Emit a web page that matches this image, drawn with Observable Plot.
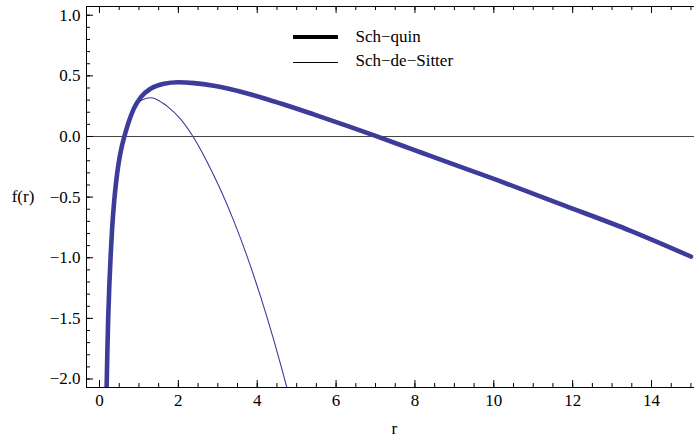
<!DOCTYPE html>
<html><head><meta charset="utf-8">
<script src="https://cdn.jsdelivr.net/npm/d3@7"></script>
<script src="https://cdn.jsdelivr.net/npm/@observablehq/plot@0.6"></script>
<style>
body{margin:0;background:#fff;}
#wrap{position:relative;width:694px;height:439px;font-family:'Liberation Serif';}
.lbl{position:absolute;font-family:'Liberation Serif';font-size:17px;line-height:1;color:#000;white-space:nowrap;}
.key{position:absolute;background:#000;}
</style></head><body><div id="wrap"></div>
<script>
// Sch-quin (thick)
const quinR = [0.18, 0.20, 0.22, 0.25, 0.28, 0.32, 0.37, 0.42, 0.48, 0.55, 0.63, 0.74, 0.87, 1.05, 1.30, 1.63, 2.00, 2.40, 2.90, 3.75, 4.60, 5.45, 6.30, 7.00, 7.97, 8.39, 10.09, 11.78, 13.47, 15.00];
const quinF = [-2.07, -1.76, -1.50, -1.22, -1.00, -0.76, -0.54, -0.38, -0.23, -0.105, 0.00, 0.12, 0.23, 0.325, 0.395, 0.435, 0.447, 0.44, 0.418, 0.355, 0.272, 0.18, 0.085, 0.005, -0.11, -0.16, -0.36, -0.568, -0.778, -0.99];
// Sch-de-Sitter (thin)
const dsR = [0.18, 0.22, 0.28, 0.37, 0.45, 0.53, 0.63, 0.74, 0.87, 1.00, 1.17, 1.30, 1.42, 1.63, 1.72, 2.05, 2.35, 2.73, 3.07, 3.41, 3.75, 4.08, 4.42, 4.76];
const dsF = [-2.07, -1.50, -1.00, -0.54, -0.30, -0.14, 0.00, 0.12, 0.23, 0.285, 0.313, 0.32, 0.31, 0.27, 0.248, 0.145, 0.01, -0.21, -0.44, -0.70, -0.995, -1.315, -1.68, -2.08];

const seriesNames = ["Sch\u2212quin", "Sch\u2212de\u2212Sitter"];
const xMajor = [0, 2, 4, 6, 8, 10, 12, 14];
const xMinor = d3.range(0, 15.01, 0.5);
const yMajor = [-2.0, -1.5, -1.0, -0.5, 0.0, 0.5, 1.0];
const yMinor = d3.range(-2.0, 1.05, 0.1).map(v => Math.round(v * 10) / 10);
const xDomain = [-0.33, 15.09];
const yDomain = [-2.07, 1.072];

const quin = quinR.map((r, i) => ({r, f: quinF[i]}));
const ds = dsR.map((r, i) => ({r, f: dsF[i]}));
const col = "#3c3c9a";

const W = 694, H = 439, mL = 86, mR = 0, mT = 6, mB = 52;
const iw = W - mL - mR, ih = H - mT - mB;
const fmt = d => d.toFixed(1).replace("-", "\u2212");
const serif = "Liberation Serif";

const chart = Plot.plot({
  width: W, height: H,
  marginLeft: mL, marginRight: mR, marginTop: mT, marginBottom: mB,
  style: {fontFamily: serif, fontSize: "17px", background: "#fff", color: "#000"},
  x: {domain: xDomain},
  y: {domain: yDomain},
  marks: [
    Plot.ruleY([0], {stroke: "#444", strokeWidth: 1}),
    Plot.line(quin, {x: "r", y: "f", stroke: col, strokeWidth: 4.6, curve: "monotone-x", clip: true}),
    Plot.line(ds, {x: "r", y: "f", stroke: col, strokeWidth: 1.1, curve: "monotone-x", clip: true}),
    // frame lines (bottom, top, left)
    Plot.ruleY([yDomain[0]], {stroke: "#000", strokeWidth: 1}),
    Plot.ruleY([yDomain[1]], {stroke: "#000", strokeWidth: 1}),
    Plot.ruleX([xDomain[0]], {stroke: "#000", strokeWidth: 1}),
    // inward ticks
    Plot.tickX(xMinor, {x: d => d, insetTop: ih - 4, stroke: "#000"}),
    Plot.tickX(xMajor, {x: d => d, insetTop: ih - 7, stroke: "#000"}),
    Plot.tickX(xMinor, {x: d => d, insetBottom: ih - 4, stroke: "#000"}),
    Plot.tickX(xMajor, {x: d => d, insetBottom: ih - 7, stroke: "#000"}),
    Plot.tickY(yMinor, {y: d => d, insetRight: iw - 4, stroke: "#000"}),
    Plot.tickY(yMajor, {y: d => d, insetRight: iw - 7, stroke: "#000"}),
    Plot.axisX(xMajor, {tickSize: 0, tickPadding: 6, label: null, tickFormat: d => String(d), fontFamily: serif}),
    Plot.axisY(yMajor, {tickSize: 0, tickPadding: 6, label: null, tickFormat: fmt, fontFamily: serif})
  ]
});
const wrap = document.getElementById("wrap");
wrap.appendChild(chart);

function addText(txt, left, top) {
  const d = document.createElement("div");
  d.className = "lbl"; d.textContent = txt;
  d.style.left = left + "px"; d.style.top = top + "px";
  wrap.appendChild(d);
}
function addKey(left, top, w, h) {
  const d = document.createElement("div");
  d.className = "key";
  d.style.left = left + "px"; d.style.top = top + "px";
  d.style.width = w + "px"; d.style.height = h + "px";
  wrap.appendChild(d);
}
addKey(293, 35, 45, 4);
addKey(293, 61.5, 45, 1.5);
addText(seriesNames[0], 355.5, 27.5);
addText(seriesNames[1], 355.5, 52.4);
addText("f(r)", 11.7, 187.8);
addText("r", 391.5, 419.8);
</script></body></html>
